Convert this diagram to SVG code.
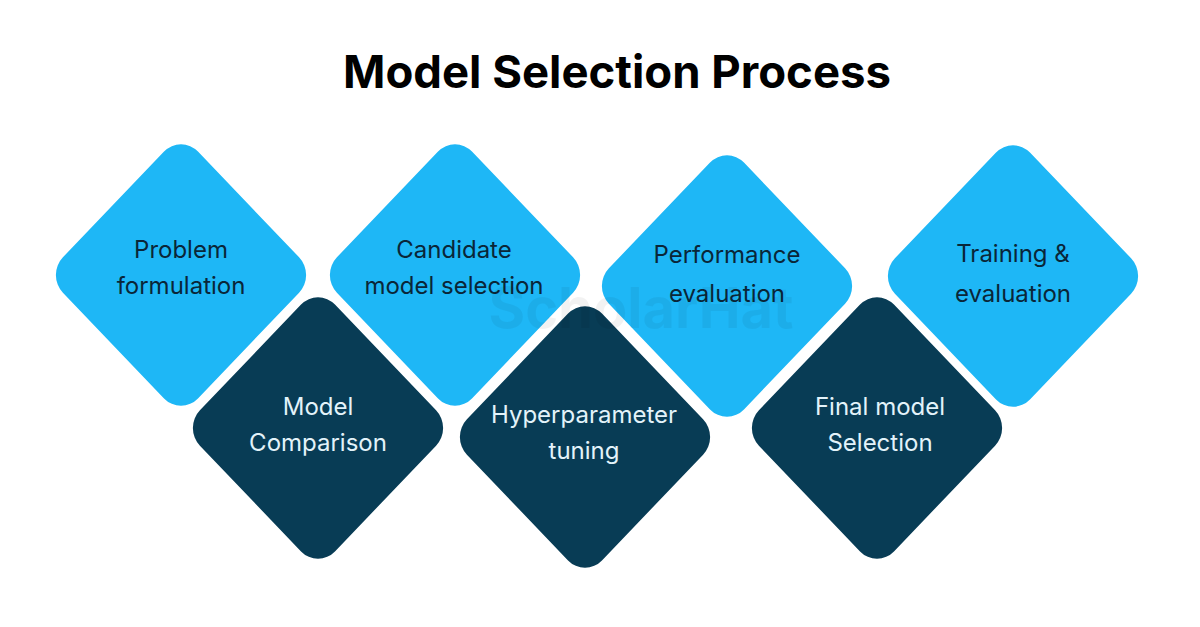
<svg xmlns="http://www.w3.org/2000/svg" width="1200" height="627" viewBox="0 0 1200 627">
  <style>
    .title { font-family: Inter, "Liberation Sans", sans-serif; font-weight: 700; font-size: 45.5px; fill: #000000; }
    .light { fill: #1EB7F6; }
    .dark { fill: #083C55; }
    .lbl { font-family: Inter, "Liberation Sans", sans-serif; font-size: 24px; text-anchor: middle; }
    .on-light { fill: #0A2638; }
    .on-dark { fill: #E3F3FA; }
    .wm { font-family: Inter, "Liberation Sans", sans-serif; font-weight: 700; font-size: 56px; fill: #000000; fill-opacity: 0.05; text-anchor: middle; }
  </style>
  <defs>
    <rect id="dia" x="-95.5" y="-95.5" width="191" height="191" rx="24" ry="24"/>
  </defs>
  <rect width="1200" height="627" fill="#ffffff"/>
  <text class="title" x="617" y="88" text-anchor="middle">Model Selection Process</text>

  <g id="connectors"/>

  <g id="node-problem-formulation">
    <use href="#dia" class="light" transform="translate(181,275) scale(1,1.045) rotate(45)"/>
    <text class="lbl on-light" x="181" y="258">Problem</text>
    <text class="lbl on-light" x="181" y="294">formulation</text>
  </g>
  <g id="node-model-comparison">
    <use href="#dia" class="dark" transform="translate(318,428) scale(1,1.045) rotate(45)"/>
    <text class="lbl on-dark" x="318" y="415">Model</text>
    <text class="lbl on-dark" x="318" y="451">Comparison</text>
  </g>
  <g id="node-candidate-model-selection">
    <use href="#dia" class="light" transform="translate(455,275) scale(1,1.045) rotate(45)"/>
    <text class="lbl on-light" x="454" y="258">Candidate</text>
    <text class="lbl on-light" x="454" y="294">model selection</text>
  </g>
  <g id="node-hyperparameter-tuning">
    <use href="#dia" class="dark" transform="translate(585,437) scale(1,1.045) rotate(45)"/>
    <text class="lbl on-dark" x="584" y="423">Hyperparameter</text>
    <text class="lbl on-dark" x="584" y="459">tuning</text>
  </g>
  <g id="node-performance-evaluation">
    <use href="#dia" class="light" transform="translate(727,286) scale(1,1.045) rotate(45)"/>
    <text class="lbl on-light" x="727" y="263">Performance</text>
    <text class="lbl on-light" x="727" y="302">evaluation</text>
  </g>
  <g id="node-final-model-selection">
    <use href="#dia" class="dark" transform="translate(877,428) scale(1,1.045) rotate(45)"/>
    <text class="lbl on-dark" x="880" y="415">Final model</text>
    <text class="lbl on-dark" x="880" y="451">Selection</text>
  </g>
  <g id="node-training-evaluation">
    <use href="#dia" class="light" transform="translate(1013,276) scale(1,1.045) rotate(45)"/>
    <text class="lbl on-light" x="1013" y="262">Training &amp;</text>
    <text class="lbl on-light" x="1013" y="302">evaluation</text>
  </g>

  <text class="wm" x="641" y="328">ScholarHat</text>
</svg>
